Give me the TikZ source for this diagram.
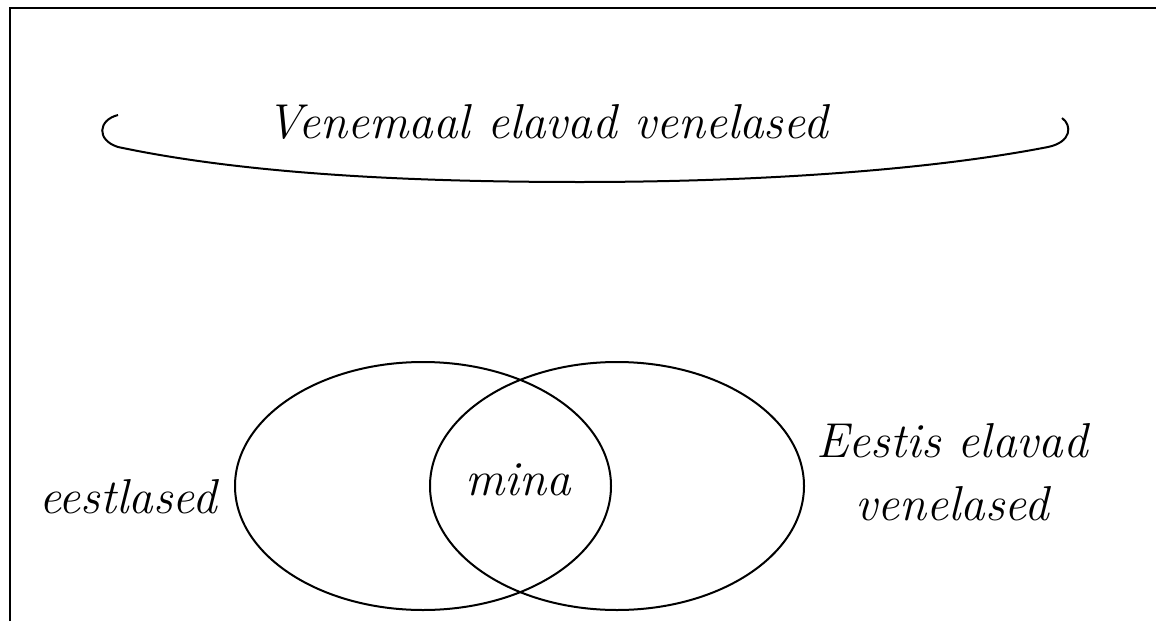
\documentclass[tikz,border=0pt]{standalone}
\usepackage{fontspec}
\begin{document}
\begin{tikzpicture}[x=1pt,y=-1pt,
  lbl/.style={font=\fontsize{49}{63}\selectfont\itshape, inner sep=0pt, anchor=base},
  stroke/.style={line width=2pt, black}]
\useasboundingbox (0,0) rectangle (1156,621);
\fill[white] (0,0) rectangle (1156,621);
% frame
\draw[line width=2pt] (10,621) -- (10,8) -- (1156,8);
% top curve
\draw[stroke] (118,115) .. controls (98,120) and (96,140) .. (118,147)
  .. controls (250,175) and (420,182) .. (580,182)
  .. controls (760,182) and (930,170) .. (1048,147)
  .. controls (1072,142) and (1072,125) .. (1062,118);
\node[lbl] (russia) at (547,138) {Venemaal elavad venelased};
% Venn
\draw[stroke] (423,486) ellipse [x radius=188, y radius=124];
\draw[stroke] (617,486) ellipse [x radius=187, y radius=124];
\node[lbl] (est) at (128,513) {eestlased};
\node[lbl] (mina) at (518,495) {mina};
\node[lbl, align=center] (estru) at (952,520) {Eestis elavad\\venelased};
\end{tikzpicture}
\end{document}
